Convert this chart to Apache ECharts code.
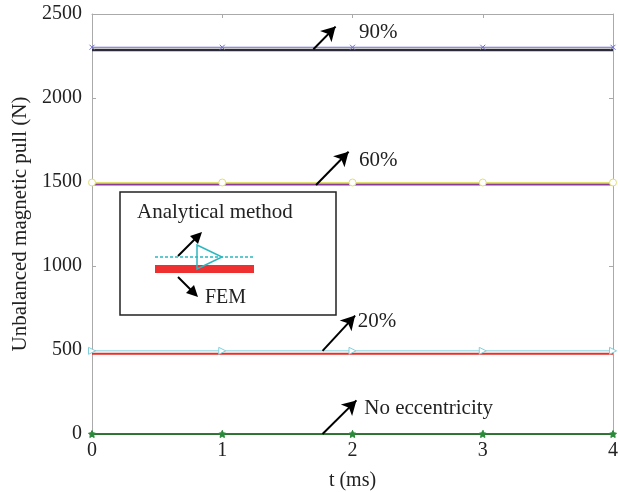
<!DOCTYPE html>
<html><head><meta charset="utf-8">
<script src="https://cdn.jsdelivr.net/npm/echarts@6/dist/echarts.min.js"></script>
<style>html,body{margin:0;padding:0;background:#fff}#c{width:618px;height:492px}</style>
</head><body><div id="c"></div>
<script>
const tTicks = [0, 1, 2, 3, 4];
const fem0 = [0, 0, 0, 0, 0];
const ana0 = [0, 0, 0, 0, 0];
const fem20 = [477, 477, 477, 477, 477];
const ana20 = [495, 495, 495, 495, 495];
const fem60 = [1485, 1485, 1485, 1485, 1485];
const ana60 = [1497, 1497, 1497, 1497, 1497];
const fem90 = [2285, 2285, 2285, 2285, 2285];
const ana90 = [2302, 2302, 2302, 2302, 2302];
const labels = ['No eccentricity', '20%', '60%', '90%'];

const F = 'Liberation Serif';
const chart = echarts.init(document.getElementById('c'));
const pair = a => tTicks.map((t, i) => [t, a[i]]);

function femSeries(d, color, w) {
  return {type: 'line', data: pair(d), symbol: 'none', silent: true,
    lineStyle: {color: color, width: w}, z: 2};
}
function anaSeries(d, color, sym, size, fill, rot) {
  return {type: 'line', data: pair(d), symbol: sym, symbolSize: size, symbolRotate: rot || 0, silent: true,
    lineStyle: {color: color, width: 1}, itemStyle: {color: fill, borderColor: color, borderWidth: 1}, z: 3};
}
const arrows = [
  {from: [1.77, 0], to: [2.03, 200], text: labels[0], tx: 2.09, ty: 150},
  {from: [1.77, 495], to: [2.02, 705], text: labels[1], tx: 2.04, ty: 668},
  {from: [1.72, 1482], to: [1.97, 1680], text: labels[2], tx: 2.05, ty: 1628},
  {from: [1.70, 2290], to: [1.87, 2425], text: labels[3], tx: 2.05, ty: 2388}
];
const annot = {
  type: 'line', data: [], silent: true, z: 5,
  markLine: {silent: true, symbol: ['none', 'arrow'], symbolSize: [12, 14],
    lineStyle: {color: '#000', width: 2, type: 'solid'}, label: {show: false},
    data: arrows.map(a => [{coord: a.from}, {coord: a.to}])},
  markPoint: {silent: true, symbol: 'circle', symbolSize: 0,
    label: {show: true, position: 'right', distance: 0, fontFamily: F, fontSize: 21, color: '#222'},
    data: arrows.map(a => ({coord: [a.tx, a.ty], value: a.text, label: {formatter: a.text}}))}
};
const plain = v => String(v);
const gray = '#aaa';

chart.setOption({
  animation: false,
  grid: {left: 92, right: 5, top: 14, bottom: 58, outerBoundsMode: 'none', containLabel: false},
  xAxis: [{
    type: 'value', min: 0, max: 4, interval: 1,
    name: 't (ms)', nameLocation: 'middle', nameGap: 37,
    nameTextStyle: {fontFamily: F, fontSize: 20, color: '#222'},
    axisLine: {onZero: false, lineStyle: {color: gray}}, axisTick: {inside: true, length: 4, lineStyle: {color: gray}},
    axisLabel: {fontFamily: F, fontSize: 20, color: '#222', margin: 7, formatter: plain},
    splitLine: {show: false}
  }, {
    type: 'value', min: 0, max: 4, interval: 1, position: 'top',
    axisLine: {show: true, onZero: false, lineStyle: {color: gray}}, axisTick: {inside: true, length: 4, lineStyle: {color: gray}},
    axisLabel: {show: false}, splitLine: {show: false}
  }],
  yAxis: [{
    type: 'value', min: 0, max: 2500, interval: 500,
    name: 'Unbalanced magnetic pull (N)', nameLocation: 'middle', nameGap: 61,
    nameTextStyle: {fontFamily: F, fontSize: 21, color: '#222'},
    axisLine: {show: true, onZero: false, lineStyle: {color: gray}}, axisTick: {show: true, inside: true, length: 4, lineStyle: {color: gray}},
    axisLabel: {fontFamily: F, fontSize: 20, color: '#222', margin: 10, formatter: plain},
    splitLine: {show: false}
  }, {
    type: 'value', min: 0, max: 2500, interval: 500, position: 'right',
    axisLine: {show: true, onZero: false, lineStyle: {color: gray}}, axisTick: {show: true, inside: true, length: 4, lineStyle: {color: gray}},
    axisLabel: {show: false}, splitLine: {show: false}
  }],
  series: [
    femSeries(fem0, '#2f6a2f', 2),
    anaSeries(ana0, '#2a8a3a', 'path://M0,-10L2.9,-4L9.5,-3.1L4.7,1.5L5.9,8.1L0,5L-5.9,8.1L-4.7,1.5L-9.5,-3.1L-2.9,-4Z', 7, '#2a8a3a'),
    femSeries(fem20, '#e8302a', 2),
    anaSeries(ana20, '#80d0dc', 'triangle', 7, '#fff', -90),
    femSeries(fem60, '#8a3a9a', 2),
    anaSeries(ana60, '#e0e070', 'circle', 7, '#fff'),
    femSeries(fem90, '#2a2a3a', 2.5),
    anaSeries(ana90, '#6a6ad6', 'path://M-5,-5L5,5M5,-5L-5,5', 5, '#6a6ad6'),
    annot
  ],
  graphic: [
    {type: 'rect', shape: {x: 120, y: 192, width: 216, height: 123}, style: {fill: '#fff', stroke: '#222', lineWidth: 1.5}, z: 10},
    {type: 'text', left: 137, top: 202, style: {text: 'Analytical method', font: '21px "Liberation Serif"', fill: '#222'}, z: 11},
    {type: 'line', shape: {x1: 155, y1: 257, x2: 254, y2: 257}, style: {stroke: '#2ab8c0', lineWidth: 1.5, lineDash: [3, 2]}, z: 11},
    {type: 'polygon', shape: {points: [[197, 245], [222, 257], [197, 269]]}, style: {fill: 'none', stroke: '#2ab8c0', lineWidth: 1.5}, z: 12},
    {type: 'rect', shape: {x: 155, y: 265, width: 99, height: 8}, style: {fill: '#ee3030'}, z: 11},
    {type: 'line', shape: {x1: 178, y1: 256, x2: 196, y2: 238}, style: {stroke: '#000', lineWidth: 2}, z: 13},
    {type: 'polygon', shape: {points: [[202, 232], [190, 236], [198, 244]]}, style: {fill: '#000'}, z: 13},
    {type: 'line', shape: {x1: 178, y1: 277, x2: 192, y2: 291}, style: {stroke: '#000', lineWidth: 2}, z: 13},
    {type: 'polygon', shape: {points: [[198, 297], [186, 293], [194, 285]]}, style: {fill: '#000'}, z: 13},
    {type: 'text', left: 205, top: 288, style: {text: 'FEM', font: '20px "Liberation Serif"', fill: '#222'}, z: 11}
  ]
});
</script></body></html>
